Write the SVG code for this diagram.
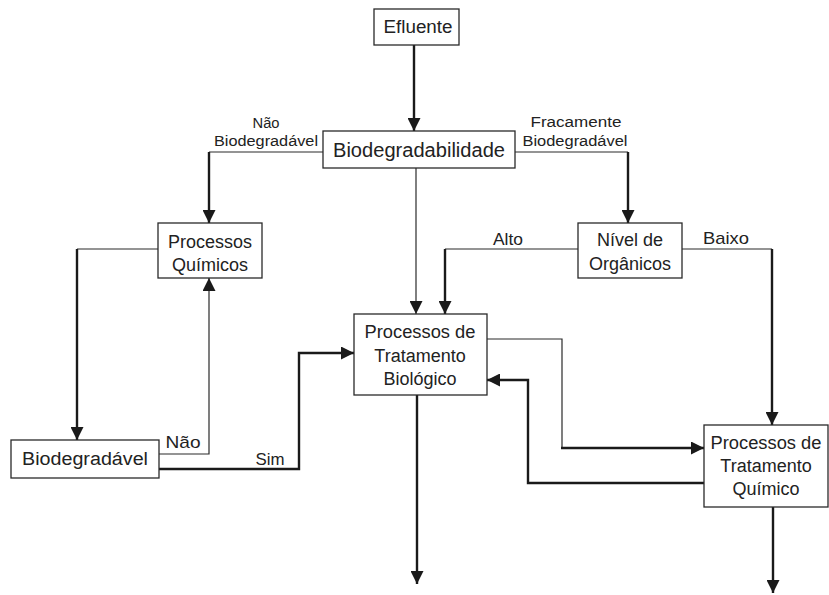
<svg xmlns="http://www.w3.org/2000/svg" width="829" height="595" viewBox="0 0 829 595">
<style>
.box{fill:#fff;stroke:#2a2a2a;stroke-width:1.3}
.t{font-family:"Liberation Sans",Arial,sans-serif;font-size:18px;fill:#222;text-anchor:middle}
.s{font-family:"Liberation Sans",Arial,sans-serif;font-size:14px;fill:#222;text-anchor:middle}
.th{fill:none;stroke:#1a1a1a;stroke-width:2.4}
.tn{fill:none;stroke:#2a2a2a;stroke-width:1.2}
</style>
<defs>
<marker id="ah" markerUnits="userSpaceOnUse" markerWidth="13" markerHeight="13" viewBox="0 0 13 13" refX="13" refY="6.5" orient="auto">
<path d="M0,0 L13,6.5 L0,13 z" fill="#1a1a1a"/>
</marker>
</defs>
<rect width="829" height="595" fill="#fff"/>
<g id="connectors">
<path class="th" d="M414,45 V131" marker-end="url(#ah)"/>
<path class="tn" d="M323,152 H209"/>
<path class="th" d="M209,152 V223" marker-end="url(#ah)"/>
<path class="tn" d="M515,152 H628"/>
<path class="th" d="M628,152 V223" marker-end="url(#ah)"/>
<path class="tn" d="M416,168 V314" marker-end="url(#ah)"/>
<path class="tn" d="M578,249 H445"/>
<path class="th" d="M445,249 V314" marker-end="url(#ah)"/>
<path class="tn" d="M682,249 H772"/>
<path class="th" d="M772,249 V425" marker-end="url(#ah)"/>
<path class="tn" d="M158,249 H77"/>
<path class="th" d="M77,249 V440" marker-end="url(#ah)"/>
<path class="tn" d="M159,454 H209 V278" marker-end="url(#ah)"/>
<path class="th" d="M159,469 H299 V353 H354" marker-end="url(#ah)"/>
<path class="tn" d="M487,339 H562 V448"/>
<path class="th" d="M561,448 H704" marker-end="url(#ah)"/>
<path class="th" d="M704,483 H528 V380 H487" marker-end="url(#ah)"/>
<path class="th" d="M417,395 V584" marker-end="url(#ah)"/>
<path class="th" d="M773,507 V593" marker-end="url(#ah)"/>
</g>
<g id="n-efluente">
<rect class="box" x="374" y="9" width="85" height="36"/>
<text class="t" x="418" y="33" textLength="69" lengthAdjust="spacingAndGlyphs">Efluente</text>
</g>
<g id="n-biodegradabilidade">
<rect class="box" x="323" y="131" width="192" height="37"/>
<text class="t" x="419" y="157" style="font-size:20px" textLength="172" lengthAdjust="spacingAndGlyphs">Biodegradabilidade</text>
</g>
<g id="n-quimicos">
<rect class="box" x="158" y="223" width="104" height="55"/>
<text class="t" x="210" y="248" textLength="84" lengthAdjust="spacingAndGlyphs">Processos</text>
<text class="t" x="210" y="271">Químicos</text>
</g>
<g id="n-nivel">
<rect class="box" x="578" y="223" width="104" height="55"/>
<text class="t" x="630" y="246">Nível de</text>
<text class="t" x="630" y="270">Orgânicos</text>
</g>
<g id="n-biologico">
<rect class="box" x="354" y="314" width="133" height="81"/>
<text class="t" x="420" y="338" textLength="111" lengthAdjust="spacingAndGlyphs">Processos de</text>
<text class="t" x="420" y="362">Tratamento</text>
<text class="t" x="420" y="385">Biológico</text>
</g>
<g id="n-quimico">
<rect class="box" x="704" y="425" width="124" height="82"/>
<text class="t" x="766" y="449" textLength="111" lengthAdjust="spacingAndGlyphs">Processos de</text>
<text class="t" x="766" y="472">Tratamento</text>
<text class="t" x="766" y="495">Químico</text>
</g>
<g id="n-biodegradavel">
<rect class="box" x="11" y="440" width="148" height="38"/>
<text class="t" x="85" y="465" textLength="126" lengthAdjust="spacingAndGlyphs">Biodegradável</text>
</g>
<g id="labels">
<text class="s" x="266" y="128" textLength="27" lengthAdjust="spacingAndGlyphs">Não</text>
<text class="s" x="266" y="146" textLength="104" lengthAdjust="spacingAndGlyphs">Biodegradável</text>
<text class="s" x="576" y="127" textLength="91" lengthAdjust="spacingAndGlyphs">Fracamente</text>
<text class="s" x="575" y="146" textLength="105" lengthAdjust="spacingAndGlyphs">Biodegradável</text>
<text class="t" x="508" y="245" style="font-size:17px" textLength="30" lengthAdjust="spacingAndGlyphs">Alto</text>
<text class="t" x="726" y="244" style="font-size:17px" textLength="46" lengthAdjust="spacingAndGlyphs">Baixo</text>
<text class="t" x="183" y="448" style="font-size:17px" textLength="35" lengthAdjust="spacingAndGlyphs">Não</text>
<text class="t" x="270" y="465" style="font-size:17px" textLength="29" lengthAdjust="spacingAndGlyphs">Sim</text>
</g>
</svg>
